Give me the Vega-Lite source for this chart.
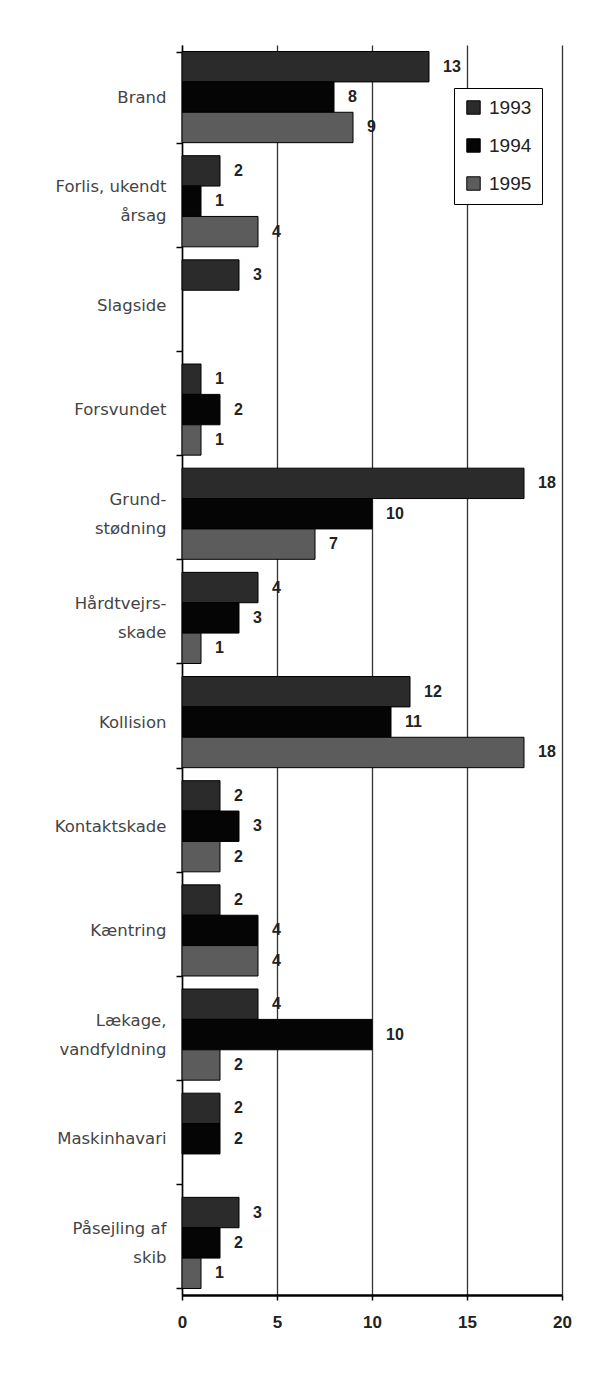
{
  "$schema": "https://vega.github.io/schema/vega-lite/v6.json",
  "autosize": "none",
  "width": 380,
  "height": 1250,
  "padding": {"left": 182, "top": 45, "right": 43, "bottom": 83},
  "background": "white",
  "config": {"view": {"stroke": null}},
  "data": {"values": [
    {"cat": "Brand", "year": "1993", "n": 13},
    {"cat": "Brand", "year": "1994", "n": 8},
    {"cat": "Brand", "year": "1995", "n": 9},
    {"cat": "Forlis, ukendt årsag", "year": "1993", "n": 2},
    {"cat": "Forlis, ukendt årsag", "year": "1994", "n": 1},
    {"cat": "Forlis, ukendt årsag", "year": "1995", "n": 4},
    {"cat": "Slagside", "year": "1993", "n": 3},
    {"cat": "Forsvundet", "year": "1993", "n": 1},
    {"cat": "Forsvundet", "year": "1994", "n": 2},
    {"cat": "Forsvundet", "year": "1995", "n": 1},
    {"cat": "Grundstødning", "year": "1993", "n": 18},
    {"cat": "Grundstødning", "year": "1994", "n": 10},
    {"cat": "Grundstødning", "year": "1995", "n": 7},
    {"cat": "Hårdtvejrsskade", "year": "1993", "n": 4},
    {"cat": "Hårdtvejrsskade", "year": "1994", "n": 3},
    {"cat": "Hårdtvejrsskade", "year": "1995", "n": 1},
    {"cat": "Kollision", "year": "1993", "n": 12},
    {"cat": "Kollision", "year": "1994", "n": 11},
    {"cat": "Kollision", "year": "1995", "n": 18},
    {"cat": "Kontaktskade", "year": "1993", "n": 2},
    {"cat": "Kontaktskade", "year": "1994", "n": 3},
    {"cat": "Kontaktskade", "year": "1995", "n": 2},
    {"cat": "Kæntring", "year": "1993", "n": 2},
    {"cat": "Kæntring", "year": "1994", "n": 4},
    {"cat": "Kæntring", "year": "1995", "n": 4},
    {"cat": "Lækage, vandfyldning", "year": "1993", "n": 4},
    {"cat": "Lækage, vandfyldning", "year": "1994", "n": 10},
    {"cat": "Lækage, vandfyldning", "year": "1995", "n": 2},
    {"cat": "Maskinhavari", "year": "1993", "n": 2},
    {"cat": "Maskinhavari", "year": "1994", "n": 2},
    {"cat": "Påsejling af skib", "year": "1993", "n": 3},
    {"cat": "Påsejling af skib", "year": "1994", "n": 2},
    {"cat": "Påsejling af skib", "year": "1995", "n": 1}
  ]},
  "encoding": {
    "y": {
      "field": "cat", "type": "nominal",
      "sort": ["Brand", "Forlis, ukendt årsag", "Slagside", "Forsvundet", "Grundstødning", "Hårdtvejrsskade", "Kollision", "Kontaktskade", "Kæntring", "Lækage, vandfyldning", "Maskinhavari", "Påsejling af skib"],
      "scale": {"paddingInner": 0.125, "paddingOuter": 0.0625},
      "axis": {
        "title": null,
        "tickBand": "extent",
        "domainColor": "#000", "domainWidth": 1.5,
        "tickColor": "#000", "tickSize": 6, "tickWidth": 1.5,
        "labelFont": "DejaVu Sans", "labelFontSize": 16.5, "labelColor": "#444",
        "labelPadding": 10, "labelLineHeight": 29, "labelLimit": 200,
        "labelOffset": {"condition": {"test": "indexof(['Forlis, ukendt årsag', 'Grundstødning', 'Hårdtvejrsskade', 'Lækage, vandfyldning', 'Påsejling af skib'], datum.value) >= 0", "value": -14.5}, "value": 0},
        "labelExpr": "datum.label == 'Forlis, ukendt årsag' ? ['Forlis, ukendt', 'årsag'] : datum.label == 'Grundstødning' ? ['Grund-', 'stødning'] : datum.label == 'Hårdtvejrsskade' ? ['Hårdtvejrs-', 'skade'] : datum.label == 'Lækage, vandfyldning' ? ['Lækage,', 'vandfyldning'] : datum.label == 'Påsejling af skib' ? ['Påsejling af', 'skib'] : datum.label"
      }
    },
    "yOffset": {"field": "year", "type": "nominal", "scale": {"paddingInner": 0, "paddingOuter": 0, "domain": ["1993", "1994", "1995"]}},
    "x": {
      "field": "n", "type": "quantitative",
      "scale": {"domain": [0, 20], "nice": false},
      "axis": {
        "title": null, "values": [0, 5, 10, 15, 20],
        "grid": true, "gridColor": "#333", "gridWidth": 1.3,
        "domainColor": "#000", "domainWidth": 2.5,
        "tickColor": "#000", "tickSize": 5, "tickWidth": 1.5,
        "labelFont": "Liberation Sans", "labelFontSize": 17, "labelFontWeight": "bold", "labelColor": "#222",
        "labelPadding": 14, "labelFlush": false
      }
    }
  },
  "layer": [
    {
      "mark": {"type": "bar", "stroke": "#000", "strokeWidth": 1},
      "encoding": {
        "color": {
          "field": "year", "type": "nominal",
          "scale": {"domain": ["1993", "1994", "1995"], "range": ["#2b2b2b", "#050505", "#5c5c5c"]},
          "legend": {
            "title": null, "orient": "none", "legendX": 272, "legendY": 43,
            "strokeColor": "#000", "fillColor": "white",
            "padding": 10, "rowPadding": 18,
            "symbolType": "square", "symbolSize": 180, "symbolStrokeColor": "#000", "symbolStrokeWidth": 1,
            "labelFont": "Liberation Sans", "labelFontSize": 19, "labelColor": "#222", "labelOffset": 6
          }
        }
      }
    },
    {
      "mark": {"type": "text", "align": "left", "baseline": "middle", "dx": 14, "font": "Liberation Sans", "fontSize": 16, "fontWeight": "bold", "color": "#222"},
      "encoding": {"text": {"field": "n", "type": "quantitative"}}
    }
  ]
}
